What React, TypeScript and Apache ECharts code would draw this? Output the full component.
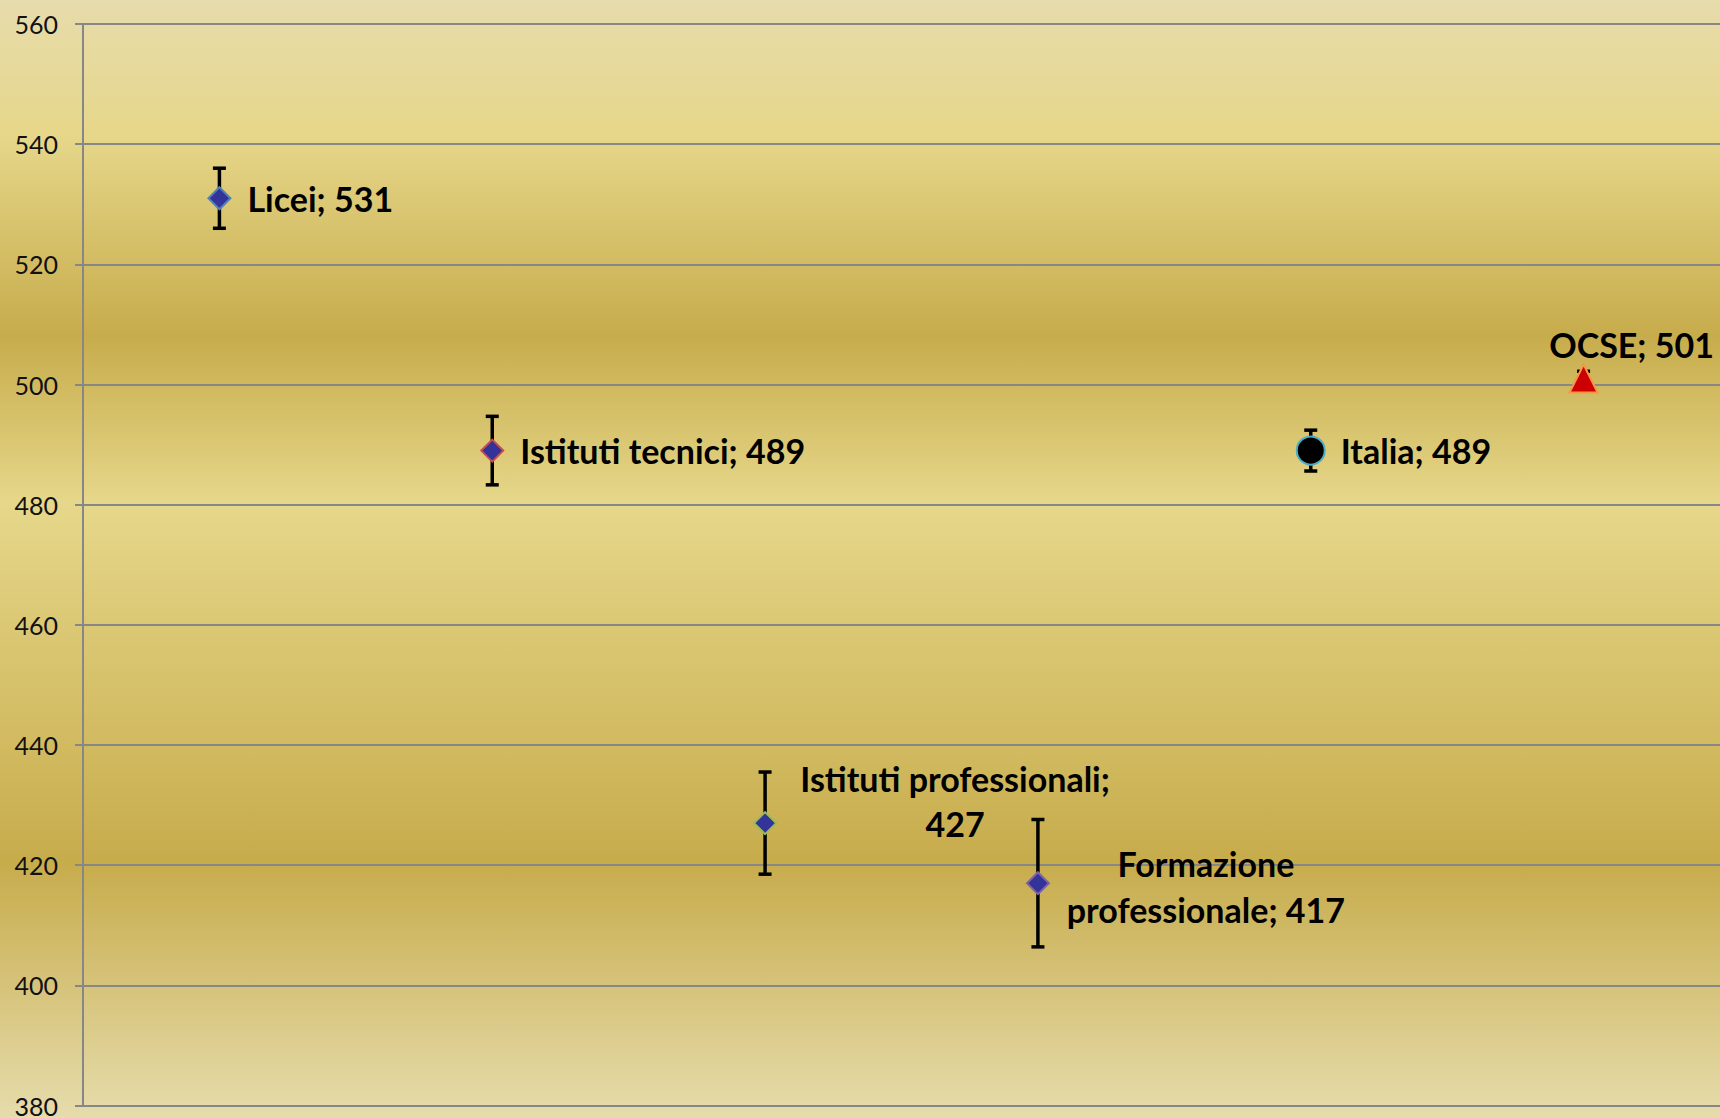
import React, { useEffect, useRef } from "react";
import * as echarts from "echarts";

const categories = [
  "Licei",
  "Istituti tecnici",
  "Istituti professionali",
  "Formazione professionale",
  "Italia",
  "OCSE",
];
const values = [531, 489, 427, 417, 489, 501];
const errors = [5.0, 5.7, 8.5, 10.6, 3.4, 1.2];
const yTicks = { min: 380, max: 560, interval: 20 };

const FONT = "Lato, 'Open Sans', sans-serif";

export default function App() {
  const ref = useRef<HTMLDivElement>(null);

  useEffect(() => {
    document.body.style.margin = "0";
    if (!ref.current) return;
    const chart = echarts.init(ref.current, null, { renderer: "svg" });

    const baseLabel = {
      show: true,
      fontFamily: FONT,
      fontWeight: "bold" as const,
      fontSize: 34,
      color: "#000000",
      opacity: 1,
    };

    const markerStyles = [
      { symbol: "diamond", symbolSize: 22, itemStyle: { color: "#333399", borderColor: "#4f81bd", borderWidth: 2, opacity: 1 }, label: { ...baseLabel, position: "right", distance: 16 } },
      { symbol: "diamond", symbolSize: 22, itemStyle: { color: "#333399", borderColor: "#c0504d", borderWidth: 2, opacity: 1 }, label: { ...baseLabel, position: "right", distance: 16 } },
      { symbol: "diamond", symbolSize: 22, itemStyle: { color: "#333399", borderColor: "#9bbb59", borderWidth: 2, opacity: 1 }, label: { ...baseLabel, position: "inside", offset: [190, -22], align: "center", verticalAlign: "middle", lineHeight: 45 } },
      { symbol: "diamond", symbolSize: 22, itemStyle: { color: "#333399", borderColor: "#8064a2", borderWidth: 2, opacity: 1 }, label: { ...baseLabel, position: "inside", offset: [168, 3], align: "center", verticalAlign: "middle", lineHeight: 46 } },
      { symbol: "circle", symbolSize: 28, itemStyle: { color: "#000000", borderColor: "#4bacc6", borderWidth: 2, opacity: 1 }, label: { ...baseLabel, position: "right", distance: 15 } },
      { symbol: "triangle", symbolSize: 28, itemStyle: { color: "#cc0000", borderColor: "#f79646", borderWidth: 2, opacity: 1 }, label: { ...baseLabel, position: "inside", offset: [48, -34], align: "center", verticalAlign: "middle" } },
    ];

    const labelText = (i: number) => {
      const name = categories[i];
      const v = values[i];
      if (i === 2) return `Istituti professionali;\n${v}`;
      if (i === 3) return `Formazione\nprofessionale; ${v}`;
      return `${name}; ${v}`;
    };

    const scatterData = values.map((v, i) => ({
      name: categories[i],
      value: [i, v],
      symbol: markerStyles[i].symbol,
      symbolSize: markerStyles[i].symbolSize,
      itemStyle: markerStyles[i].itemStyle,
      label: { ...markerStyles[i].label, formatter: labelText(i) },
    }));

    const errorData = values.map((v, i) => [i, v - errors[i], v + errors[i]]);

    chart.setOption({
      animation: false,
      backgroundColor: {
        type: "linear",
        x: 0, y: 0, x2: 0, y2: 1,
        colorStops: [
          { offset: 0, color: "#e6dcac" },
          { offset: 0.12, color: "#e6d78a" },
          { offset: 0.3, color: "#c7ac4c" },
          { offset: 0.45, color: "#e6d78a" },
          { offset: 0.77, color: "#c7ac4c" },
          { offset: 1, color: "#e6dcac" },
        ],
      },
      grid: { left: 83, right: -1, top: 24, bottom: 10, containLabel: false },
      xAxis: {
        type: "category",
        data: categories,
        boundaryGap: true,
        axisLine: { show: true, lineStyle: { color: "#878787", width: 2 } },
        axisTick: { show: false },
        axisLabel: { show: false },
        splitLine: { show: false },
      },
      yAxis: {
        type: "value",
        min: yTicks.min,
        max: yTicks.max,
        interval: yTicks.interval,
        axisLine: { show: true, lineStyle: { color: "#878787", width: 2 } },
        axisTick: { show: true, inside: false, length: 8, lineStyle: { color: "#878787", width: 2 } },
        axisLabel: { fontFamily: FONT, fontSize: 25, color: "#111111", margin: 25 },
        splitLine: { show: true, lineStyle: { color: "#878787", width: 2 } },
      },
      series: [
        {
          type: "custom",
          z: 1,
          data: errorData,
          encode: { x: 0, y: [1, 2] },
          renderItem: (params: any, api: any) => {
            const idx = api.value(0);
            const lo = api.coord([idx, api.value(1)]);
            const hi = api.coord([idx, api.value(2)]);
            const hw = 6.5;
            const style = { stroke: "#000000", lineWidth: 3.5 };
            return {
              type: "group",
              children: [
                { type: "line", shape: { x1: lo[0], y1: lo[1], x2: hi[0], y2: hi[1] }, style },
                { type: "line", shape: { x1: lo[0] - hw, y1: lo[1], x2: lo[0] + hw, y2: lo[1] }, style },
                { type: "line", shape: { x1: hi[0] - hw, y1: hi[1], x2: hi[0] + hw, y2: hi[1] }, style },
              ],
            };
          },
        },
        {
          type: "scatter",
          z: 3,
          itemStyle: { opacity: 1 },
          data: scatterData,
        },
      ],
    });

    return () => chart.dispose();
  }, []);

  return <div ref={ref} style={{ width: 1720, height: 1118 }} />;
}
